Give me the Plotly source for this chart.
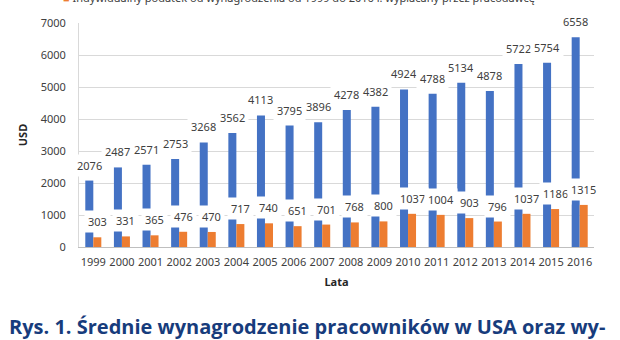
import plotly.graph_objects as go

years = [str(y) for y in range(1999, 2017)]
wage_values = [2076, 2487, 2571, 2753, 3268, 3562, 4113, 3795, 3896, 4278,
               4382, 4924, 4788, 5134, 4878, 5722, 5754, 6558]
tax_values = [303, 331, 365, 476, 470, 717, 740, 651, 701, 768,
              800, 1037, 1004, 903, 796, 1037, 1186, 1315]
y_ticks = [0, 1000, 2000, 3000, 4000, 5000, 6000, 7000]

wage_name = "Średnie wynagrodzenie"
tax_name = "Indywidualny podatek od wynagrodzenia od 1999 do 2016 r. wypłacany przez pracodawcę"
caption = "Rys. 1. Średnie wynagrodzenie pracowników w USA oraz wy-"

BLUE = "#4472C4"
ORANGE = "#ED7D31"
FONT = "Noto Sans"
TXT = "#404040"

fig = go.Figure()
fig.add_trace(go.Bar(x=years, y=wage_values, name=wage_name, marker_color=BLUE,
                     marker_line_width=0, showlegend=False))
fig.add_trace(go.Bar(x=years, y=tax_values, name=tax_name, marker_color=ORANGE,
                     marker_line_width=0, showlegend=False))

annotations = []
for i, v in enumerate(wage_values):
    annotations.append(dict(x=i, y=v, xref="x", yref="y", text=str(v), showarrow=False,
                            xshift=-4, yshift=4, yanchor="bottom", bgcolor="white",
                            borderpad=3, font=dict(family=FONT, size=11, color=TXT)))
for i, v in enumerate(tax_values):
    annotations.append(dict(x=i, y=v, xref="x", yref="y", text=str(v), showarrow=False,
                            xshift=4, yshift=4, yanchor="bottom", bgcolor="white",
                            borderpad=3, font=dict(family=FONT, size=11, color=TXT)))

# legend fragment at top (cut off as in the source)
annotations.append(dict(xref="paper", yref="paper", x=-0.035, y=1.112, xanchor="left",
                        yanchor="middle", showarrow=False,
                        text=f"<span style='color:{ORANGE}'>■</span> {tax_name}",
                        font=dict(family=FONT, size=11, color=TXT)))
# caption
annotations.append(dict(xref="paper", yref="paper", x=-0.140, y=-0.355, xanchor="left",
                        yanchor="middle", showarrow=False,
                        text=f"<b>{caption}</b>",
                        font=dict(family="Open Sans", size=20, color="#173C7C")))

fig.update_layout(
    width=620, height=340,
    margin=dict(l=79, r=26, t=23, b=93),
    paper_bgcolor="white", plot_bgcolor="white",
    barmode="group", bargap=0.44, bargroupgap=0,
    font=dict(family=FONT, size=11, color=TXT),
    annotations=annotations,
    xaxis=dict(type="category", range=[-0.5, len(years) - 0.5], showgrid=False,
               showline=True, linecolor="#BFBFBF",
               ticks="", ticklabelstandoff=5, tickfont=dict(size=11, color=TXT),
               title=dict(text="<b>Lata</b>", font=dict(size=11, color="#262626"), standoff=10)),
    yaxis=dict(range=[0, 7000], tickvals=y_ticks, showgrid=True, gridcolor="#D9D9D9",
               showline=True, linecolor="#D9D9D9", ticks="", ticklabelstandoff=10,
               zeroline=False, tickfont=dict(size=11, color=TXT),
               title=dict(text="<b>USD</b>", font=dict(size=11, color="#262626"), standoff=10)),
)

fig.write_html("out.html")
